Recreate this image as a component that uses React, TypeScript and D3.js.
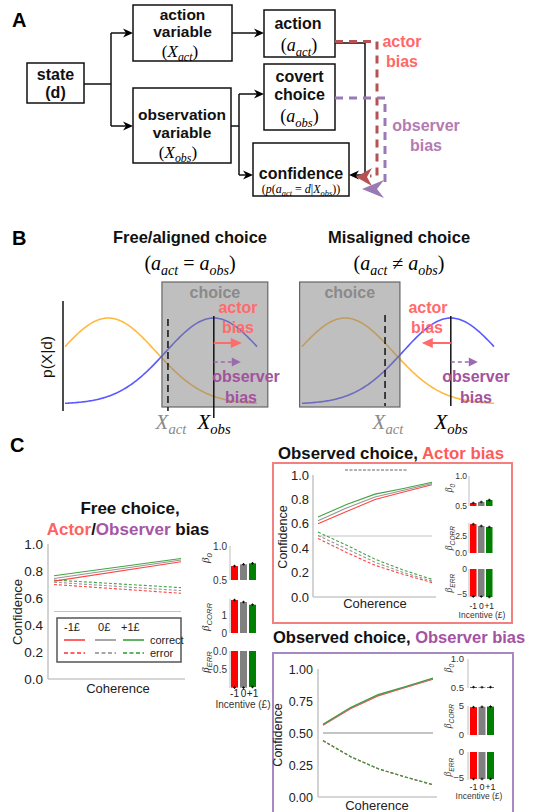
import React from 'react';
import * as d3 from 'd3';

const W = 533;
const H = 812;
const SANS = "'Liberation Sans', Arial, Helvetica, sans-serif";
const SERIF = "'Liberation Serif', 'Times New Roman', serif";

// ---------------- Panel B schematic parameters ----------------
const densityMeans = [-2.2, 2.2];
const densitySd = 2.0;
const densityColors = ['#ffad1f', '#3c3cff'];
const densityDomain: [number, number] = [-4, 4];

// ---------------- Panel C data ----------------
const incentiveLabels = ['-1', '0', '+1'];
const barColors = ['#ff0000', '#808080', '#008000'];
const lineColors = ['#ff3030', '#8a8a8a', '#2c9a2c'];

const freeCoherence = [0, 1];
const freeCorrect = [
  [0.725, 0.868],
  [0.745, 0.881],
  [0.765, 0.893],
];
const freeError = [
  [0.7, 0.635],
  [0.717, 0.655],
  [0.733, 0.677],
];

const obsCoherence = [0, 1, 2, 3, 4];
const actorCorrect = [
  [0.6, 0.7, 0.8, 0.86, 0.92],
  [0.625, 0.73, 0.82, 0.875, 0.93],
  [0.655, 0.758, 0.843, 0.89, 0.94],
];
const actorError = [
  [0.48, 0.365, 0.26, 0.185, 0.118],
  [0.505, 0.395, 0.285, 0.2, 0.13],
  [0.532, 0.425, 0.31, 0.22, 0.145],
];
const observerCorrect = [
  [0.56, 0.69, 0.79, 0.855, 0.92],
  [0.564, 0.695, 0.795, 0.86, 0.925],
  [0.568, 0.7, 0.8, 0.864, 0.93],
];
const observerError = [
  [0.44, 0.315, 0.22, 0.155, 0.095],
  [0.44, 0.315, 0.22, 0.155, 0.095],
  [0.442, 0.317, 0.222, 0.157, 0.097],
];

const freeB0 = [0.705, 0.73, 0.745];
const freeBCorr = [1.83, 1.72, 1.57];
const freeBErr = [-1.01, -1.01, -0.99];
const actorB0 = [0.55, 0.567, 0.6];
const actorBCorr = [4.25, 3.98, 3.82];
const actorBErr = [-5.5, -5.5, -5.6];
const observerB0 = [0.515, 0.513, 0.515];
const observerBCorr = [4.8, 4.85, 4.9];
const observerBErr = [-5.2, -5.2, -5.2];

const confTicks = [0, 0.2, 0.4, 0.6, 0.8, 1.0];
const confTicksObs = [0, 0.25, 0.5, 0.75, 1.0];

// ---------------- helpers ----------------
type Part = { t: string; it?: boolean; sub?: boolean };

function MathText({ x, y, parts, size, fill = '#000', anchor = 'middle' }: { x: number; y: number; parts: Part[]; size: number; fill?: string; anchor?: string }) {
  const shift = size * 0.25;
  return (
    <text x={x} y={y} fontFamily={SERIF} fontSize={size} textAnchor={anchor as any} fill={fill}>
      {parts.map((p, i) => {
        const prevSub = i > 0 && !!parts[i - 1].sub;
        const dy = p.sub && !prevSub ? shift : !p.sub && prevSub ? -shift : 0;
        return (
          <tspan key={i} dy={dy} fontStyle={p.it ? 'italic' : 'normal'} fontSize={p.sub ? size * 0.7 : size}>
            {p.t}
          </tspan>
        );
      })}
    </text>
  );
}

function VText({ cx, cy, size, children, fill = '#222', weight = 'normal', family = SANS }: any) {
  return (
    <text transform={`translate(${cx + size * 0.35},${cy}) rotate(-90)`} textAnchor="middle" fontSize={size} fill={fill} fontWeight={weight} fontFamily={family}>
      {children}
    </text>
  );
}

function Head({ x, y, dir, len = 10, w = 4.5, color = '#000', notch = 3 }: { x: number; y: number; dir: 'left' | 'right'; len?: number; w?: number; color?: string; notch?: number }) {
  const s = dir === 'right' ? -1 : 1;
  const pts = [
    [x, y],
    [x + s * len, y - w],
    [x + s * (len - notch), y],
    [x + s * len, y + w],
  ];
  return <polygon points={pts.map((p) => p.join(',')).join(' ')} fill={color} />;
}

function Box({ x, y, w, h }: { x: number; y: number; w: number; h: number }) {
  return <rect x={x} y={y} width={w} height={h} fill="#fff" stroke="#111" strokeWidth={1.5} />;
}

function BoldLines({ x, ys, lines, size = 16, fill = '#111' }: { x: number; ys: number[]; lines: string[]; size?: number; fill?: string }) {
  return (
    <g fontFamily={SANS} fontWeight="bold" fontSize={size} fill={fill} textAnchor="middle">
      {lines.map((l, i) => (
        <text key={i} x={x} y={ys[i]}>
          {l}
        </text>
      ))}
    </g>
  );
}

// ---------------- Panel A ----------------
function PanelA() {
  return (
    <g>
      <text x={12} y={27} fontFamily={SANS} fontWeight="bold" fontSize={20}>
        A
      </text>
      <g stroke="#111" strokeWidth={1.5} fill="none">
        <path d="M84,84 H111 M111,33 V126 M111,33 H126 M111,126 H126" />
        <path d="M232,33 H257" />
        <path d="M231,126 H239 M239,94 V175 M239,94 H257 M239,175 H246" />
        <path d="M335,43 H365 V175 H356" />
      </g>
      <Head x={133} y={33} dir="right" />
      <Head x={133} y={126} dir="right" />
      <Head x={264} y={33} dir="right" />
      <Head x={264} y={94} dir="right" />
      <Head x={253} y={175} dir="right" />

      <Box x={133} y={5} w={99} h={56} />
      <BoldLines x={182.5} ys={[20, 37]} lines={['action', 'variable']} size={15.5} />
      <MathText x={180} y={57} size={17} parts={[{ t: '(' }, { t: 'X', it: true }, { t: 'act', it: true, sub: true }, { t: ')' }]} />

      <Box x={27} y={63} w={57} h={40} />
      <BoldLines x={55.5} ys={[80, 98]} lines={['state', '(d)']} />

      <Box x={133} y={88} w={98} h={75} />
      <BoldLines x={182} ys={[120, 138]} lines={['observation', 'variable']} size={15.5} />
      <MathText x={178} y={158} size={17} parts={[{ t: '(' }, { t: 'X', it: true }, { t: 'obs', it: true, sub: true }, { t: ')' }]} />

      <Box x={264} y={10} w={71} h={47} />
      <BoldLines x={298} ys={[29]} lines={['action']} />
      <MathText x={299} y={51} size={18} parts={[{ t: '(' }, { t: 'a', it: true }, { t: 'act', it: true, sub: true }, { t: ')' }]} />

      <Box x={264} y={64} w={71} h={66} />
      <BoldLines x={299.5} ys={[82, 100]} lines={['covert', 'choice']} />
      <MathText x={299.5} y={122} size={18} parts={[{ t: '(' }, { t: 'a', it: true }, { t: 'obs', it: true, sub: true }, { t: ')' }]} />

      <Box x={253} y={143} w={96} h={53} />
      <BoldLines x={301} ys={[179]} lines={['confidence']} />
      <MathText
        x={301}
        y={193}
        size={12}
        parts={[
          { t: '(' },
          { t: 'p', it: true },
          { t: '(' },
          { t: 'a', it: true },
          { t: 'act', it: true, sub: true },
          { t: ' = ' },
          { t: 'd', it: true },
          { t: '|' },
          { t: 'X', it: true },
          { t: 'obs', it: true, sub: true },
          { t: '))' },
        ]}
      />
      <Head x={349} y={175} dir="left" />

      <path d="M335,41.5 H377 V176 H370" fill="none" stroke="#b75252" strokeWidth={3} strokeDasharray="8,6" />
      <polygon points="356,177 372,168 367,177 372,186" fill="#b75252" />
      <path d="M335,98 H385 V186" fill="none" stroke="#9a7ab4" strokeWidth={3} strokeDasharray="8,6" />
      <polygon points="362,189 384,180 377,189 384,198" fill="#9a7ab4" />

      <BoldLines x={402} ys={[47, 67]} lines={['actor', 'bias']} fill="#ff6868" />
      <BoldLines x={426} ys={[131, 151]} lines={['observer', 'bias']} fill="#b47ab4" />
    </g>
  );
}

// ---------------- Panel B ----------------
function DensityPlot({ xRange, box, xAct, xObs, actorDir, solidBottom, dashTop, dashBottom }: any) {
  const x = d3.scaleLinear().domain(densityDomain).range(xRange);
  const y = d3.scaleLinear().domain([0, 1]).range([404, 318]);
  const pts = d3.range(densityDomain[0], densityDomain[1] + 0.001, 0.05);
  const curve = (m: number) =>
    d3
      .line<number>()
      .x((v) => x(v))
      .y((v) => y(Math.exp(-((v - m) * (v - m)) / (2 * densitySd * densitySd))))(pts) as string;
  const xo = x(xObs);
  const xa = x(xAct);
  const actorTip = actorDir === 'right' ? xo + 28 : xo - 29;
  return (
    <g>
      {densityMeans.map((m, i) => (
        <path key={i} d={curve(m)} fill="none" stroke={densityColors[i]} strokeWidth={1.6} opacity={0.85} />
      ))}
      <rect x={x(box[0])} y={282} width={x(box[1]) - x(box[0])} height={125} fill="#808080" fillOpacity={0.5} stroke="#666" strokeWidth={1.2} />
      <text x={(x(box[0]) + x(box[1])) / 2} y={298} textAnchor="middle" fontFamily={SANS} fontWeight="bold" fontSize={16} fill="#8a8a8a">
        choice
      </text>
      <line x1={xa} x2={xa} y1={dashTop} y2={dashBottom} stroke="#111" strokeWidth={1.5} strokeDasharray="7,4" />
      <line x1={xo} x2={xo} y1={316} y2={solidBottom} stroke="#111" strokeWidth={1.5} />
      <line x1={xo} x2={actorDir === 'right' ? actorTip - 8 : actorTip + 8} y1={343} y2={343} stroke="#ff6b6b" strokeWidth={2} />
      <Head x={actorTip} y={343} dir={actorDir} len={11} w={5} notch={0} color="#ff6b6b" />
      <line x1={xo} x2={xo + 19} y1={362} y2={362} stroke="#9b6bb0" strokeWidth={1.6} strokeDasharray="4,3" />
      <Head x={xo + 27} y={362} dir="right" len={9} w={4.5} notch={0} color="#9b6bb0" />
    </g>
  );
}

function PanelB() {
  return (
    <g>
      <text x={12} y={245} fontFamily={SANS} fontWeight="bold" fontSize={20}>
        B
      </text>
      <g fontFamily={SANS} fontWeight="bold" fontSize={16.5} textAnchor="middle" fill="#111">
        <text x={190} y={243}>
          Free/aligned choice
        </text>
        <text x={399} y={243}>
          Misaligned choice
        </text>
      </g>
      <MathText x={190} y={270} size={20} parts={[{ t: '(' }, { t: 'a', it: true }, { t: 'act', it: true, sub: true }, { t: ' = ' }, { t: 'a', it: true }, { t: 'obs', it: true, sub: true }, { t: ')' }]} />
      <MathText x={399} y={270} size={20} parts={[{ t: '(' }, { t: 'a', it: true }, { t: 'act', it: true, sub: true }, { t: ' ≠ ' }, { t: 'a', it: true }, { t: 'obs', it: true, sub: true }, { t: ')' }]} />

      <line x1={63} x2={63} y1={301} y2={411} stroke="#111" strokeWidth={1.5} />
      <VText cx={47} cy={357} size={15.5} fill="#111">
        p(X|d)
      </VText>

      <DensityPlot xRange={[65, 257]} box={[0.04, 4.45]} xAct={0.29} xObs={2.2} actorDir="right" solidBottom={418} dashTop={319} dashBottom={411} />
      <DensityPlot xRange={[302, 494]} box={[-4.1, 0.08]} xAct={-0.54} xObs={2.2} actorDir="left" solidBottom={406} dashTop={315} dashBottom={406} />

      <g fontFamily={SANS} fontWeight="bold" fontSize={16} textAnchor="middle">
        <text x={238} y={313} fill="#ff6b6b">actor</text>
        <text x={238} y={333} fill="#ff6b6b">bias</text>
        <text x={246} y={382} fill="#a2529e">observer</text>
        <text x={241} y={403} fill="#a2529e">bias</text>
        <text x={428} y={313} fill="#ff6b6b">actor</text>
        <text x={427} y={333} fill="#ff6b6b">bias</text>
        <text x={476} y={382} fill="#a2529e">observer</text>
        <text x={476} y={403} fill="#a2529e">bias</text>
      </g>

      <MathText x={171} y={429} size={21} fill="#8a8a8a" parts={[{ t: 'X', it: true }, { t: 'act', it: true, sub: true }]} />
      <MathText x={214} y={429} size={21} parts={[{ t: 'X', it: true }, { t: 'obs', it: true, sub: true }]} />
      <MathText x={388} y={429} size={21} fill="#8a8a8a" parts={[{ t: 'X', it: true }, { t: 'act', it: true, sub: true }]} />
      <MathText x={451} y={429} size={21} parts={[{ t: 'X', it: true }, { t: 'obs', it: true, sub: true }]} />
    </g>
  );
}

// ---------------- Panel C ----------------
function LineChart(p: any) {
  const x = d3.scaleLinear().domain(d3.extent(p.xs) as [number, number]).range([p.x0, p.x1]);
  const y = d3.scaleLinear().domain([0, 1]).range([p.yBot, p.yTop]);
  const line = d3
    .line<number>()
    .x((_, i) => x(p.xs[i]))
    .y((v) => y(v));
  return (
    <g>
      <line x1={p.axisX} x2={p.axisX} y1={p.yTop} y2={p.yBot} stroke="#c8c8c8" strokeWidth={1.6} />
      <line x1={p.axisX} x2={p.xAxisEnd} y1={p.yBot} y2={p.yBot} stroke="#c8c8c8" strokeWidth={1.6} />
      {p.ticks.map((t: number) => (
        <text key={t} x={p.tickRight} y={y(t) + p.tickSize * 0.36} textAnchor="end" fontFamily={SANS} fontSize={p.tickSize} fill="#222">
          {p.fmt(t)}
        </text>
      ))}
      <line x1={p.x0} x2={p.x1} y1={y(0.5)} y2={y(0.5)} stroke="#c4c4c4" strokeWidth={p.refW} />
      {p.error.map((s: number[], i: number) => (
        <path key={'e' + i} d={line(s) as string} fill="none" stroke={lineColors[i]} strokeWidth={1.1} strokeDasharray="3,2" opacity={0.9} />
      ))}
      {p.correct.map((s: number[], i: number) => (
        <path key={'c' + i} d={line(s) as string} fill="none" stroke={lineColors[i]} strokeWidth={1.1} opacity={0.9} />
      ))}
      <text x={p.cohX} y={p.cohY} textAnchor="middle" fontFamily={SANS} fontSize={p.cohSize} fill="#222">
        Coherence
      </text>
      <VText cx={p.confX} cy={p.confY} size={p.confSize}>
        Confidence
      </VText>
    </g>
  );
}

function BetaBars(p: any) {
  return (
    <g>
      {p.panels.map((pn: any, k: number) => {
        const y = d3.scaleLinear().domain(pn.domain).range(pn.range);
        const base = pn.domain[0] > 0 ? pn.domain[0] : pn.domain[1] < 0 ? pn.domain[1] : 0;
        return (
          <g key={k}>
            <line x1={p.axisX} x2={p.axisX} y1={y(pn.domain[1])} y2={y(pn.domain[0])} stroke="#c8c8c8" strokeWidth={1.2} />
            {pn.ticks.map((t: number) => (
              <text key={t} x={p.tickRight} y={y(t) + p.tickSize * 0.36} textAnchor="end" fontFamily={SANS} fontSize={p.tickSize} fill="#333">
                {pn.fmt(t)}
              </text>
            ))}
            {pn.values.map((v: number, i: number) => {
              const bx = p.barX0 + i * p.step;
              const y0 = y(base);
              const y1 = y(v);
              return (
                <g key={i}>
                  <rect x={bx} y={Math.min(y0, y1)} width={p.barW} height={Math.abs(y1 - y0)} fill={barColors[i]} />
                  <line x1={bx + p.barW / 2} x2={bx + p.barW / 2} y1={y1 - 1.3} y2={y1 + 1.3} stroke="#111" strokeWidth={1} />
                  <line x1={bx + p.barW / 2 - 1.5} x2={bx + p.barW / 2 + 1.5} y1={y1} y2={y1} stroke="#111" strokeWidth={1} />
                </g>
              );
            })}
            <VText cx={p.labelX} cy={pn.labelY} size={p.labelSize} fill="#333" family={SERIF}>
              <tspan fontStyle="italic">β</tspan>
              <tspan fontSize={p.labelSize * 0.7} dy={p.labelSize * 0.25} fontFamily={SANS} fontStyle="italic">
                {pn.name}
              </tspan>
            </VText>
          </g>
        );
      })}
      {incentiveLabels.map((l, i) => (
        <text key={l} x={p.barX0 + i * p.step + p.barW / 2} y={p.xLabY} textAnchor="middle" fontFamily={SANS} fontSize={p.xLabSize} fill="#222">
          {l}
        </text>
      ))}
      <text x={p.incX} y={p.incY} textAnchor="middle" fontFamily={SANS} fontSize={p.incSize} fill="#333">
        Incentive (£)
      </text>
    </g>
  );
}

const f1 = d3.format('.1f');
const f2 = d3.format('.2f');
const fm = (f: (v: number) => string) => (v: number) => f(v).replace('-', '−');
const fd = (v: number) => String(v).replace('-', '−');

function PanelC() {
  return (
    <g>
      <text x={10} y={452} fontFamily={SANS} fontWeight="bold" fontSize={20}>
        C
      </text>
      <g fontFamily={SANS} fontWeight="bold" fontSize={17} textAnchor="middle" fill="#111">
        <text x={130} y={514}>Free choice,</text>
        <text x={128} y={535}>
          <tspan fill="#ff6262">Actor</tspan>
          <tspan>/</tspan>
          <tspan fill="#a655a6">Observer</tspan>
          <tspan> bias</tspan>
        </text>
      </g>
      <LineChart
        x0={54} x1={181} yTop={544} yBot={679} axisX={48} xAxisEnd={185}
        xs={freeCoherence} correct={freeCorrect} error={freeError}
        ticks={confTicks} fmt={f1} tickSize={13.5} tickRight={43}
        cohX={118} cohY={693} cohSize={13} confX={17} confY={612} confSize={13} refW={1.2}
      />
      <rect x={57} y={618} width={124} height={44} fill="#fff" stroke="#555" strokeWidth={1.5} />
      <g fontFamily={SANS} fontSize={11} fill="#222">
        {incentiveLabels.map((l, i) => (
          <text key={l} x={[64, 98, 121][i]} y={631}>
            {l}£
          </text>
        ))}
        <text x={150} y={644}>correct</text>
        <text x={150} y={657}>error</text>
      </g>
      {incentiveLabels.map((l, i) => {
        const lx = [64, 95, 123][i];
        return (
          <g key={l}>
            <line x1={lx} x2={lx + 21} y1={640} y2={640} stroke={lineColors[i]} strokeWidth={1.5} />
            <line x1={lx} x2={lx + 21} y1={653} y2={653} stroke={lineColors[i]} strokeWidth={1.5} strokeDasharray="4,2.5" />
          </g>
        );
      })}
      <BetaBars
        axisX={230} barX0={231} barW={7} step={9}
        labelX={205} labelSize={11} tickSize={10} tickRight={227}
        xLabY={697} xLabSize={10} incX={243} incY={708} incSize={10}
        panels={[
          { name: '0', domain: [0.5, 1.0], range: [580, 546], ticks: [0.5, 1.0], fmt: f1, values: freeB0, labelY: 558 },
          { name: 'CORR', domain: [0, 1.9], range: [633, 598.8], ticks: [0, 1], fmt: fd, values: freeBCorr, labelY: 617 },
          { name: 'ERR', domain: [-1.02, 0], range: [688, 651], ticks: [-0.5, 0], fmt: fm(f1), values: freeBErr, labelY: 662 },
        ]}
      />

      <text x={278} y={459} fontFamily={SANS} fontWeight="bold" fontSize={16.8} fill="#111">
        Observed choice, <tspan fill="#ff5a5a">Actor bias</tspan>
      </text>
      <rect x={273} y={463} width={239} height={160} fill="none" stroke="#f47f7f" strokeWidth={2} />
      <line x1={345} x2={407} y1={470} y2={470} stroke="#666" strokeWidth={1.2} strokeDasharray="3,1.5" />
      <LineChart
        x0={318} x1={432} yTop={475} yBot={597} axisX={313} xAxisEnd={436}
        xs={obsCoherence} correct={actorCorrect} error={actorError}
        ticks={confTicks} fmt={f1} tickSize={13} tickRight={309}
        cohX={375} cohY={608} cohSize={13} confX={283} confY={537} confSize={12.5} refW={1.2}
      />
      <BetaBars
        axisX={469} barX0={470} barW={6.5} step={8}
        labelX={449} labelSize={9.5} tickSize={8.5} tickRight={467}
        xLabY={609} xLabSize={8.5} incX={482} incY={618} incSize={8.5}
        panels={[
          { name: '0', domain: [0.5, 1.0], range: [506, 476], ticks: [0.5, 1.0], fmt: f1, values: actorB0, labelY: 488 },
          { name: 'CORR', domain: [0, 4.4], range: [553, 523.1], ticks: [0, 2.5], fmt: f1, values: actorBCorr, labelY: 538 },
          { name: 'ERR', domain: [-5.6, 0], range: [597, 569], ticks: [-5, 0], fmt: fd, values: actorBErr, labelY: 583 },
        ]}
      />

      <text x={273} y={643} fontFamily={SANS} fontWeight="bold" fontSize={16.5} fill="#111">
        Observed choice, <tspan fill="#a452a4">Observer bias</tspan>
      </text>
      <rect x={273} y={653} width={240} height={175} fill="none" stroke="#a888c0" strokeWidth={2} />
      <LineChart
        x0={323} x1={433} yTop={669} yBot={797} axisX={318} xAxisEnd={437}
        xs={obsCoherence} correct={observerCorrect} error={observerError}
        ticks={confTicksObs} fmt={f2} tickSize={12.5} tickRight={313}
        cohX={377} cohY={810} cohSize={13} confX={278} confY={735} confSize={12.5} refW={2}
      />
      <BetaBars
        axisX={468} barX0={470} barW={7} step={8.5}
        labelX={448} labelSize={9.5} tickSize={9.5} tickRight={464}
        xLabY={790} xLabSize={9} incX={479} incY={799} incSize={8.5}
        panels={[
          { name: '0', domain: [0.5, 1.0], range: [688, 659], ticks: [0.5, 1.0], fmt: f1, values: observerB0, labelY: 668 },
          { name: 'CORR', domain: [0, 5], range: [735, 706], ticks: [0, 5], fmt: fd, values: observerBCorr, labelY: 716 },
          { name: 'ERR', domain: [-5.4, 0], range: [780, 752], ticks: [-5, 0], fmt: fd, values: observerBErr, labelY: 767 },
        ]}
      />
    </g>
  );
}

export default function App() {
  return (
    <svg width={W} height={H} viewBox={`0 0 ${W} ${H}`} style={{ position: 'absolute', left: 0, top: 0, display: 'block' }}>
      <rect width={W} height={H} fill="#fff" />
      <PanelA />
      <PanelB />
      <PanelC />
    </svg>
  );
}
